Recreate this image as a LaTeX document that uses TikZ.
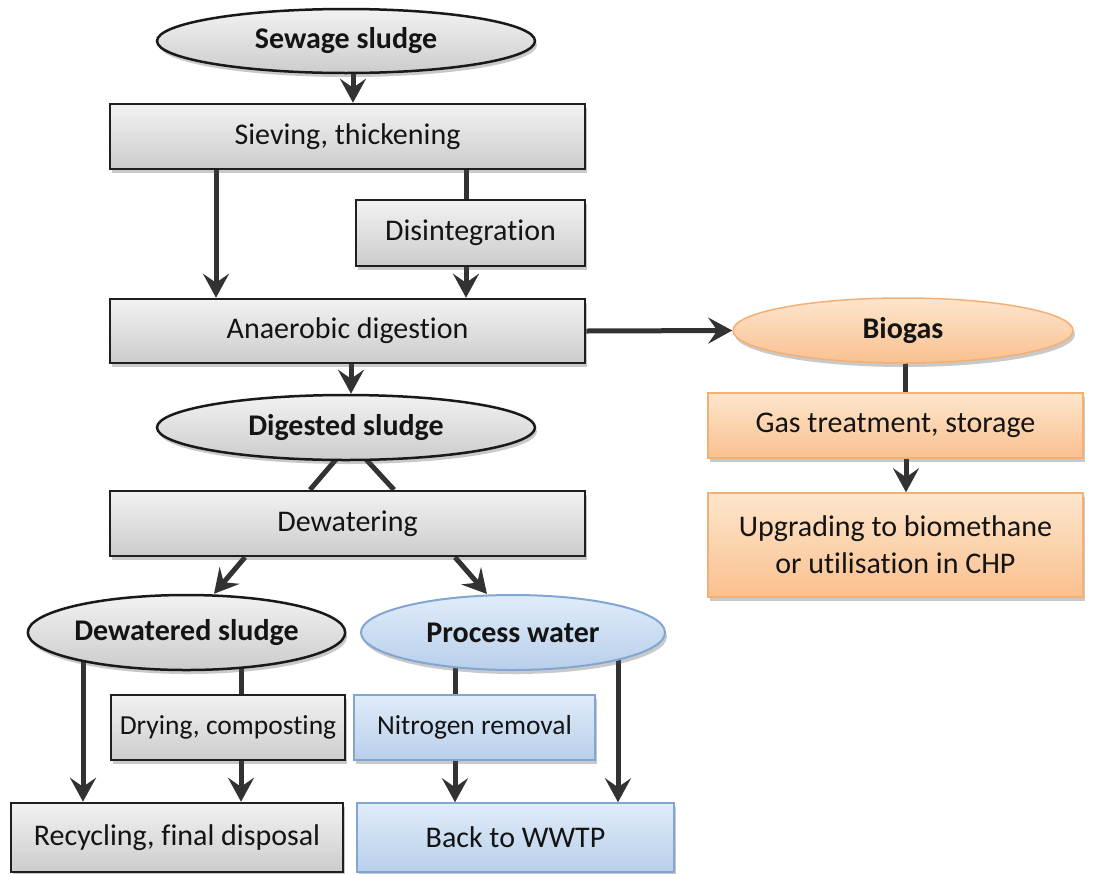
\documentclass[tikz,border=0pt]{standalone}
\usepackage{fontspec}
\setmainfont{Carlito}[Ligatures=NoCommon]
\usetikzlibrary{shapes.geometric,arrows.meta,shadows,backgrounds}
\definecolor{gtop}{RGB}{242,242,242}
\definecolor{gbot}{RGB}{204,204,204}
\definecolor{otop}{RGB}{253,230,205}
\definecolor{obot}{RGB}{250,192,143}
\definecolor{oline}{RGB}{245,175,115}
\definecolor{btop}{RGB}{224,236,249}
\definecolor{bbot}{RGB}{184,207,235}
\definecolor{bline}{RGB}{130,165,210}
\definecolor{conn}{RGB}{50,50,50}
\begin{document}
\begin{tikzpicture}[x=1pt,y=-1pt,
  base/.style={inner sep=0pt, font=\fontsize{30}{37}\selectfont, text=black!92,
    drop shadow={shadow xshift=2pt, shadow yshift=-4pt, opacity=0.3, fill=black!70}},
  smallfont/.style={font=\fontsize{27.5}{33}\selectfont},
  graybox/.style={base, rectangle, draw=black!88, line width=2.5pt, top color=gtop, bottom color=gbot},
  grayell/.style={base, ellipse, draw=black!90, line width=2.5pt, top color=gtop, bottom color=gbot, font=\fontsize{30}{37}\selectfont\bfseries},
  orbox/.style={base, rectangle, draw=oline, line width=1.5pt, top color=otop, bottom color=obot},
  orell/.style={base, ellipse, draw=oline, line width=1.5pt, top color=otop, bottom color=obot, font=\fontsize{30}{37}\selectfont\bfseries},
  blbox/.style={base, rectangle, draw=bline, line width=1.5pt, top color=btop, bottom color=bbot},
  blell/.style={base, ellipse, draw=bline, line width=2pt, top color=btop, bottom color=bbot, font=\fontsize{30}{37}\selectfont\bfseries},
  ln/.style={line width=5pt, draw=conn},
  arr/.style={ln, -{Stealth[length=24pt,width=26pt,inset=9pt]}}
]
\useasboundingbox (0,0) rectangle (1094,873);

\node[grayell, minimum width=378pt, minimum height=64pt] (sewage) at (346,41) {Sewage sludge};
\node[graybox, minimum width=475pt, minimum height=65pt] (sieve) at (347.5,136.5) {Sieving, thickening};
\node[graybox, minimum width=229pt, minimum height=66pt] (disint) at (470.5,233) {Disintegration};
\node[graybox, minimum width=475pt, minimum height=64pt] (anaer) at (347.5,331) {Anaerobic digestion};
\node[grayell, minimum width=378pt, minimum height=65pt] (digested) at (346,427.5) {Digested sludge};
\node[graybox, minimum width=475pt, minimum height=65pt] (dewater) at (347.5,523.5) {Dewatering};
\node[grayell, minimum width=293pt, minimum height=75pt] (dewatered) at (186.5,632.5) {Dewatered sludge};
\node[blell, minimum width=304pt, minimum height=75pt] (procwater) at (513,632.5) {Process water};
\node[graybox, smallfont, minimum width=234pt, minimum height=65pt] (drying) at (228,727.5) {Drying, composting};
\node[blbox, smallfont, minimum width=241pt, minimum height=65pt] (nitrogen) at (474.5,727.5) {Nitrogen removal};
\node[graybox, minimum width=332pt, minimum height=69pt] (recycling) at (177,837.5) {Recycling, final disposal};
\node[blbox, minimum width=317pt, minimum height=69pt] (back) at (515.5,837.5) {Back to WWTP};
\node[orell, minimum width=340pt, minimum height=65pt] (biogas) at (903,330.5) {Biogas};
\node[orbox, minimum width=375pt, minimum height=65pt] (gas) at (895.5,425.5) {Gas treatment, storage};
\node[orbox, minimum width=375pt, minimum height=104pt, align=center] (upgrade) at (895.5,545) {Upgrading to biomethane\\or utilisation in CHP};

\begin{scope}[on background layer]
\draw[arr] ([xshift=7pt]sewage.south) -- ([xshift=5.5pt]sieve.north);
\draw[arr] ([xshift=-131.5pt]sieve.south) -- ([xshift=-131.5pt]anaer.north);
\draw[ln] ([xshift=118.5pt]sieve.south) -- ([xshift=-4.5pt]disint.north);
\draw[arr] ([xshift=-4.5pt]disint.south) -- ([xshift=118.5pt]anaer.north);
\draw[arr] (anaer.east) -- (biogas.west);
\draw[arr] ([xshift=3.5pt]anaer.south) -- ([xshift=5pt]digested.north);
\draw[ln] ([xshift=-9pt,yshift=3pt]digested.south) -- ([xshift=-37.5pt]dewater.north);
\draw[ln] ([xshift=19pt,yshift=3pt]digested.south) -- ([xshift=46.5pt]dewater.north);
\draw[arr] ([xshift=-102.5pt]dewater.south) -- ([xshift=27.5pt]dewatered.north);
\draw[arr] ([xshift=107.5pt]dewater.south) -- ([xshift=-26pt]procwater.north);
\draw[arr] ([xshift=-103.5pt]dewatered.center) -- ([xshift=-94pt]recycling.north);
\draw[ln] ([xshift=54.5pt]dewatered.center) -- ([xshift=13pt]drying.north);
\draw[arr] ([xshift=13pt]drying.south) -- ([xshift=64pt]recycling.north);
\draw[ln] ([xshift=-58pt]procwater.center) -- ([xshift=-19.5pt]nitrogen.north);
\draw[arr] ([xshift=-19.5pt]nitrogen.south) -- ([xshift=-60.5pt]back.north);
\draw[arr] ([xshift=105pt]procwater.center) -- ([xshift=102.5pt]back.north);
\draw[ln] ([xshift=2pt]biogas.center) -- ([xshift=9.5pt]gas.north);
\draw[arr] ([xshift=10.5pt]gas.south) -- ([xshift=10.5pt]upgrade.north);
\end{scope}
\end{tikzpicture}
\end{document}
